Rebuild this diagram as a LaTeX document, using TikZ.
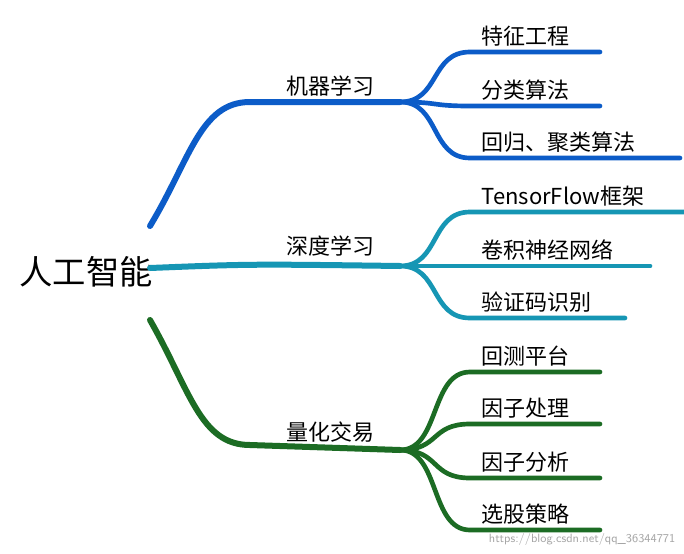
\documentclass[tikz,border=0pt]{standalone}
\usepackage{fontspec}
\newfontfamily\cjk{Noto Sans CJK SC}
\definecolor{mlblue}{RGB}{12,92,200}
\definecolor{dlteal}{RGB}{22,150,180}
\definecolor{qtgreen}{RGB}{28,108,36}
\tikzset{
  branch/.style={line width=4.5pt, line cap=round},
  twig/.style={line width=3.5pt, line cap=round},
  lbl/.style={font=\cjk\fontsize{16.5}{18}\selectfont, anchor=south, inner sep=4pt},
  leaf/.style={font=\cjk\fontsize{16.5}{18}\selectfont, anchor=south west, inner sep=4pt}
}
\begin{document}
\begin{tikzpicture}[x=0.75pt,y=-0.75pt]
\useasboundingbox[fill=white] (0,0) rectangle (684,553);

% root
\node[font=\cjk\fontsize{25}{28}\selectfont] (root) at (86,272) {人工智能};
\coordinate (rb) at (150,226);
\coordinate (rt) at (150,268);
\coordinate (rg) at (150,320);

% machine learning
\coordinate (mlA) at (250,102);
\coordinate (mlB) at (400,102);
\node[lbl] (ml) at (330,102) {机器学习};
\draw[branch, mlblue] (rb) .. controls (190,160) and (200,102) .. (mlA) -- (mlB);
\foreach \y/\e/\t [count=\i] in {52/600/特征工程, 106/600/分类算法, 158/680/回归、聚类算法} {
  \coordinate (mle\i) at (\e,\y);
  \node[leaf] (ml\i) at (476,\y) {\t};
  \draw[twig, mlblue] (mlB) .. controls (440,102) and (430,\y) .. (470,\y) -- (mle\i);
}

% deep learning
\coordinate (dlB) at (400,266);
\node[lbl] (dl) at (330,262) {深度学习};
\draw[branch, dlteal] (rt) .. controls (250,264) .. (dlB);
\foreach \y/\e/\t [count=\i] in {212/684/TensorFlow框架, 266/650/卷积神经网络, 318/625/验证码识别} {
  \coordinate (dle\i) at (\e,\y);
  \node[leaf] (dl\i) at (476,\y) {\t};
  \draw[twig, dlteal] (dlB) .. controls (440,266) and (430,\y) .. (470,\y) -- (dle\i);
}

% quant trading
\coordinate (qtA) at (250,445);
\coordinate (qtB) at (400,450);
\node[lbl] (qt) at (330,448) {量化交易};
\draw[branch, qtgreen] (rg) .. controls (190,390) and (200,445) .. (qtA) -- (qtB);
\foreach \y/\t [count=\i] in {372/回测平台, 424/因子处理, 478/因子分析, 530/选股策略} {
  \coordinate (qte\i) at (600,\y);
  \node[leaf] (qt\i) at (476,\y) {\t};
  \draw[twig, qtgreen] (qtB) .. controls (440,450) and (430,\y) .. (470,\y) -- (qte\i);
}

\node[font=\sffamily\fontsize{9}{10}\selectfont, text=black!35, anchor=south east] (wm) at (680,550) {https://blog.csdn.net/qq\_36344771};
\end{tikzpicture}
\end{document}
